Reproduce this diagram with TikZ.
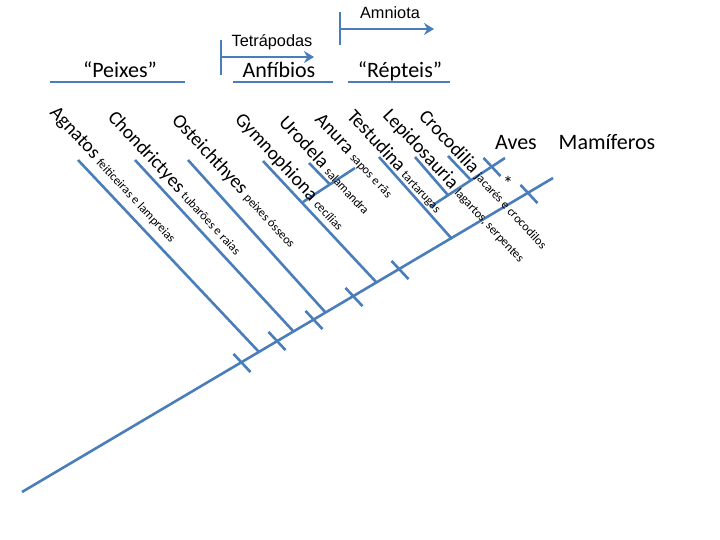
\documentclass[tikz,border=0pt]{standalone}
\usepackage{fontspec}
\setmainfont{Carlito}
\newfontfamily\arialf{Liberation Sans}
\usetikzlibrary{arrows.meta,calc}
\definecolor{lineblue}{HTML}{4A7EBB}
\newcommand\dsc{\fontsize{12.4}{12.4}\selectfont}
\begin{document}
\begin{tikzpicture}[x=1pt,y=-1pt,
  branch/.style={draw=lineblue,line width=2.6pt},
  tickmark/.style={draw=lineblue,line width=2.6pt},
  arr/.style={draw=lineblue,line width=2.6pt,-{Stealth[length=10pt,width=12pt]}},
  taxon/.style={rotate=-47,anchor=base west,inner sep=0pt,font=\fontsize{19.5}{19.5}\selectfont},
  group/.style={anchor=base,inner sep=0pt,font=\fontsize{22}{22}\selectfont},
  clade/.style={anchor=base,inner sep=0pt,font=\arialf\fontsize{16.3}{16.3}\selectfont}]
\useasboundingbox (0,0) rectangle (720,540);

% ---- top group labels ----
\node[group] (peixes) at (120,78) {“Peixes”};
\node[group] (anfibios) at (279,78) {Anfíbios};
\node[group] (repteis) at (400,78) {“Répteis”};
\coordinate (pl) at (50,82);  \coordinate (pr) at (185,82);
\coordinate (al) at (233,82); \coordinate (ar) at (333,82);
\coordinate (rl) at (348,82); \coordinate (rr) at (450,82);
\draw[branch] (pl) -- (pr);
\draw[branch] (al) -- (ar);
\draw[branch] (rl) -- (rr);

% ---- Tetrapodas / Amniota brackets ----
\node[clade] (tetra) at (272,46.5) {Tetrápodas};
\node[clade] (amnio) at (390,18.3) {Amniota};
\coordinate (tv1) at (221,40); \coordinate (tv2) at (221,75);
\coordinate (ta) at (221,57);  \coordinate (tb) at (314,57);
\coordinate (mv1) at (340,12); \coordinate (mv2) at (340,45);
\coordinate (ma) at (340,29);  \coordinate (mb) at (434,29);
\draw[branch] (tv1) -- (tv2);
\draw[arr] (ta) -- (tb);
\draw[branch] (mv1) -- (mv2);
\draw[arr] (ma) -- (mb);

% ---- Aves / Mamiferos ----
\node[group] (aves) at (516,150) {Aves};
\node[group] (mamif) at (607,150) {Mamíferos};
\node[inner sep=0pt,font=\fontsize{20}{20}\selectfont] (ast) at (508,183) {*};

% ---- trunk ----
\coordinate (root) at (22,492);
\coordinate (top) at (553,178);
\draw[branch] (root) -- (top);

% junctions on trunk
\coordinate (j1) at (259,352);
\coordinate (j2) at (294,332);
\coordinate (j3) at (326,313);
\coordinate (j4) at (377,283);
\coordinate (j5) at (452,239);

% branch tips
\coordinate (agn) at (78,160);
\coordinate (cho) at (135,160);
\coordinate (ost) at (188,160);
\coordinate (gym) at (263,161);
\coordinate (uro) at (309,163);
\coordinate (tes) at (379,157);
\coordinate (lep) at (415,157);
\coordinate (cro) at (448,156);

\draw[branch] (agn) -- (j1);
\draw[branch] (cho) -- (j2);
\draw[branch] (ost) -- (j3);
\draw[branch] (gym) -- (j4);
\draw[branch] (tes) -- (j5);

% amphibian sub-clade
\coordinate (ga) at (303,202);
\coordinate (anu) at (355,168);
\coordinate (ua) at (330,184.5);
\draw[branch] (ga) -- (anu);
\draw[branch] (uro) -- (ua);

% reptile sub-clade
\coordinate (tr) at (430,207);
\coordinate (ave) at (505,158);
\coordinate (lr) at (448,195.2);
\coordinate (cr) at (471,180.2);
\draw[branch] (tr) -- (ave);
\draw[branch] (lep) -- (lr);
\draw[branch] (cro) -- (cr);

% ticks
\foreach \xx/\yy/\n in {242/363/k1,277/341/k2,314/320/k3,354/297/k4,400/270/k5,529/194/k6,492/167/k7}{
  \coordinate (\n) at (\xx,\yy);
  \draw[tickmark] ($(\n)+(-8.5,-9.1)$) -- ($(\n)+(8.5,9.1)$);
}

% ---- taxon labels ----
\node[taxon] (lagn) at (49,113) {Agnatos \dsc feiticeiras e lampreias};
\node[taxon] (lcho) at (107,118) {Chondrictyes \dsc tubarões e raias};
\node[taxon] (lost) at (171,121) {Osteichthyes \dsc peixes ósseos};
\node[taxon] (lgym) at (234,120) {Gymnophiona \dsc cecílias};
\node[taxon] (luro) at (278,123) {Urodela \dsc salamandra};
\node[taxon] (lanu) at (314,120) {Anura \dsc sapos e rãs};
\node[taxon] (ltes) at (346,117) {Testudina \dsc tartarugas};
\node[taxon] (llep) at (382,116) {Lepidosauria \dsc lagartos, serpentes};
\node[taxon] (lcro) at (418,117) {Crocodilia \dsc jacarés e crocodilos};
\end{tikzpicture}
\end{document}
